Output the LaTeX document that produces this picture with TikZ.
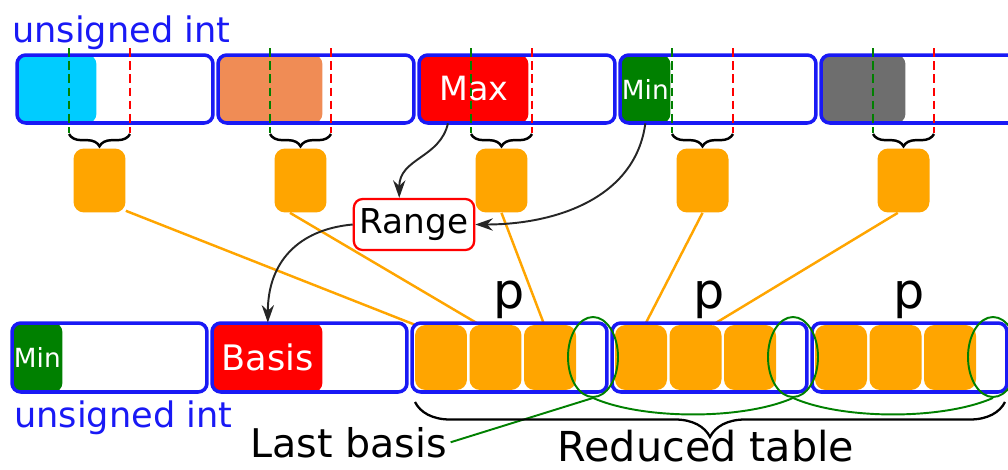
\documentclass[tikz,border=0pt]{standalone}
\usepackage{fontspec}
\setmainfont{DejaVu Sans}
\usetikzlibrary{decorations.pathreplacing,shapes.geometric,arrows.meta}

\definecolor{intblue}{RGB}{25,25,245}
\definecolor{slotorange}{RGB}{255,165,0}
\definecolor{fillcyan}{RGB}{0,204,255}
\definecolor{fillsalmon}{RGB}{240,140,85}
\definecolor{fillgray}{RGB}{110,110,110}
\definecolor{darkgreen}{RGB}{0,128,0}

\tikzset{
  intbox/.style={draw=intblue, line width=2pt, rounded corners=5pt, minimum width=3.92cm, minimum height=1.36cm, inner sep=0pt},
  valfill/.style={rounded corners=5pt, inner sep=0pt, minimum height=1.36cm, anchor=west, text=white},
  slot/.style={fill=slotorange, rounded corners=6pt, minimum width=1.04cm, minimum height=1.28cm, inner sep=0pt},
  cell/.style={fill=slotorange, rounded corners=6pt, minimum width=1.04cm, minimum height=1.3cm, inner sep=0pt},
  lastring/.style={ellipse, draw=darkgreen, line width=1.1pt, minimum width=1cm, minimum height=1.6cm, inner sep=0pt},
  link/.style={draw=slotorange, line width=1.4pt},
  flow/.style={-{Stealth[length=10pt,width=7pt]}, line width=1.1pt, black!85},
  cutline/.style={line width=1.6pt, dash pattern=on 5pt off 2.5pt},
  typelbl/.style={anchor=base west, inner sep=0pt, text=intblue, font=\fontsize{20}{24}\selectfont},
}

\begin{document}
\begin{tikzpicture}[x=0.02cm, y=-0.02cm]
\useasboundingbox (0,0) rectangle (1008,470);

\node[typelbl] (toplbl) at (12,42) {unsigned int};

\foreach \i/\w/\c/\t in {1/79/fillcyan/{},2/104/fillsalmon/{},3/109/red/{\fontsize{19}{23}\selectfont Max},4/50/darkgreen/{\fontsize{15}{18}\selectfont Min},5/84/fillgray/{}} {
  \pgfmathsetmacro\x{17+201*(\i-1)}
  \node[valfill, fill=\c, minimum width=\w*0.02cm] (v\i) at (\x,89) {\t};
  \node[intbox] (t\i) at (\x+98,89) {};
  \draw[cutline, darkgreen] (\x+52,48) -- (\x+52,133);
  \draw[cutline, red] (\x+113,48) -- (\x+113,133);
  \draw[decorate, decoration={brace, mirror, amplitude=7pt}, line width=1.4pt] (\x+52,134) -- (\x+113,134);
  \node[slot] (s\i) at (\x+82.5,180.5) {};
}

\node[valfill, fill=darkgreen, minimum width=1cm, minimum height=1.38cm] (minb) at (12,357.5) {\fontsize{15}{18}\selectfont Min};
\node[valfill, fill=red, minimum width=2.18cm, minimum height=1.38cm] (basv) at (213,357.5) {\fontsize{20}{24}\selectfont Basis};
\foreach \i in {3,4,5}
  \foreach \k in {1,2,3}
    \node[cell] (c\i\k) at (12+200*\i-200+29+54.5*\k-54.5,357.5) {};

\draw[link] (s1.-49) -- (c31.north west);
\draw[link] (s2.-108) -- (c32.116);
\draw[link] (s3.south) -- (c33.100);
\draw[link] (s4.south) -- (c41.83);
\draw[link] (s5.-100) -- (c42.62);

\foreach \i in {1,...,5}
  \node[intbox, minimum width=3.9cm, minimum height=1.38cm] (b\i) at (12+200*\i-200+97.5,357.5) {};
\foreach \i in {3,4,5} {
  \node[lastring] (e\i) at (12+200*\i-200+181,357) {};
  \node[anchor=south, inner sep=1pt, font=\fontsize{28}{32}\selectfont] (p\i) at (b\i.north) {p};
}

\draw[darkgreen, line width=1.1pt] (e3.south) .. controls +(50,22) and +(-50,22) .. (e4.south) .. controls +(50,22) and +(-50,22) .. (e5.south);

\node[anchor=base west, inner sep=0pt, font=\fontsize{22.5}{27}\selectfont] (lastlbl) at (250,457) {Last basis};
\draw[darkgreen, line width=1.1pt] (e3.south) -- ([xshift=2pt]lastlbl.east);

\draw[decorate, decoration={brace, mirror, amplitude=0.7cm}, line width=1.3pt] (415,402) -- (1005,402);
\node[anchor=base, inner sep=0pt, font=\fontsize{23.5}{28}\selectfont] (redlbl) at (706,461) {Reduced table};

\node[typelbl] (botlbl) at (14,427) {unsigned int};

\node[draw=red, line width=1.3pt, fill=white, rounded corners=5pt, minimum width=2.36cm, minimum height=1.02cm, font=\fontsize{19.5}{23}\selectfont] (rng) at (414,224.5) {Range};

\draw[flow] (v3.233) .. controls +(-8,35) and +(0,-40) .. (rng.119);
\draw[flow] (v4.south) .. controls +(-10,75) and +(80,0) .. (rng.east);
\draw[flow] (rng.west) .. controls +(-55,5) and +(0,-60) .. (basv.north);
\end{tikzpicture}
\end{document}
